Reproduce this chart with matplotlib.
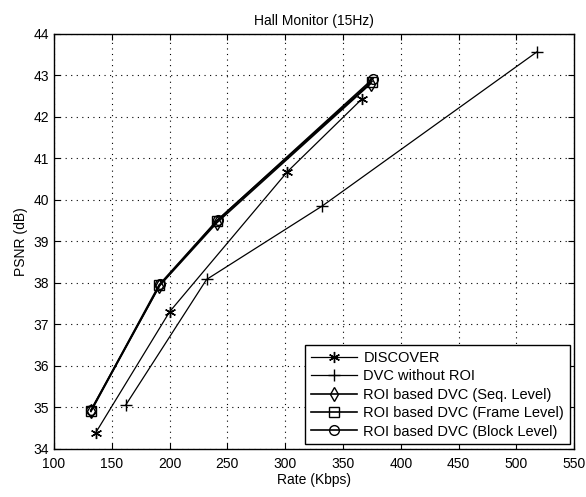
import matplotlib.pyplot as plt

plt.rcParams['font.family'] = ['Liberation Sans', 'DejaVu Sans']

discover_rate = [136, 200, 302, 366]
discover_psnr = [34.38, 37.3, 40.68, 42.42]

noroi_rate = [162, 232, 332, 518]
noroi_psnr = [35.05, 38.08, 39.85, 43.57]

seq_rate = [132, 191, 241, 374]
seq_psnr = [34.9, 37.92, 39.45, 42.8]

frame_rate = [132, 191, 241, 375]
frame_psnr = [34.92, 37.95, 39.5, 42.85]

block_rate = [132, 192, 242, 376]
block_psnr = [34.93, 37.96, 39.52, 42.92]

labels = ['DISCOVER', 'DVC without ROI', 'ROI based DVC (Seq. Level)',
          'ROI based DVC (Frame Level)', 'ROI based DVC (Block Level)']

fig = plt.figure(figsize=(5.86, 4.97), dpi=100)
ax = fig.add_axes([0.092, 0.097, 0.888, 0.835])

asterisk = (6, 2, 0)
ax.plot(discover_rate, discover_psnr, color='k', lw=0.9, marker=asterisk, ms=8, mew=1.0, label=labels[0])
ax.plot(noroi_rate, noroi_psnr, color='k', lw=0.9, marker='+', ms=9, mew=1.0, label=labels[1])
ax.plot(seq_rate, seq_psnr, color='k', lw=1.2, marker='d', ms=7, mfc='none', mew=1.0, label=labels[2])
ax.plot(frame_rate, frame_psnr, color='k', lw=1.2, marker='s', ms=7, mfc='none', mew=1.0, label=labels[3])
ax.plot(block_rate, block_psnr, color='k', lw=1.2, marker='o', ms=7, mfc='none', mew=1.0, label=labels[4])

ax.set_xlim(100, 550)
ax.set_ylim(34, 44)
ax.set_xticks(range(100, 551, 50))
ax.set_yticks(range(34, 45))
ax.grid(True, color='k', linestyle=(0, (1, 4)), linewidth=0.8)
ax.tick_params(direction='in', top=True, right=True, labelsize=10, length=4)
ax.tick_params(axis='x', pad=6)
for s in ax.spines.values():
    s.set_linewidth(1.0)

ax.set_title('Hall Monitor (15Hz)', fontsize=10)
ax.set_xlabel('Rate (Kbps)', fontsize=10, labelpad=1)
ax.set_ylabel('PSNR (dB)', fontsize=10)

leg = ax.legend(loc='lower right', fontsize=10.5, fancybox=False, edgecolor='k',
                framealpha=1, borderaxespad=0.3, handlelength=3.2, labelspacing=0.3,
                borderpad=0.4, handletextpad=0.4)
leg.get_frame().set_linewidth(1.0)

fig.savefig('out.png', dpi=100)
